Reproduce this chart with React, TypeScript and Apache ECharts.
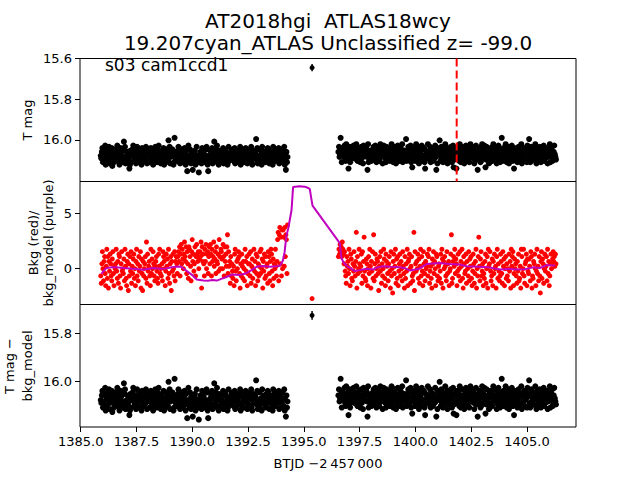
import React, { useEffect, useRef } from 'react';
import * as echarts from 'echarts';

// ---------- data ----------
const titleLines = ['AT2018hgi  ATLAS18wcy', '19.207cyan_ATLAS Unclassified z= -99.0'];
const sectorLabel = 's03 cam1ccd1';

const seg1Span = [1385.9, 1394.27];
const seg2Span = [1396.55, 1406.3];

// magnitudes, base-36 codes: mag = 15.983 + code * 0.0063
const magSeg1 = [
  'fhc9kgbi7m', 'djfae8lhgc', '9ndfkbiaeg', '7jhcmf9dkg', 'ai4b8lgfjc',
  'hdpmbkefa7', 'gjcilf8dhb', 'kagem9cjfi', 'bh8dlgaekf', 'c9jhfmbdi8',
  'egkaj7hcfl', 'dbig9mefka', 'hcj3f8lgbd', 'aemk1fhcgj', 'b8idlfagke',
  'jc9hmbfri7', 'gkaelhcqjf', 'dbmi8gfksh', 'ecjl9bgdif', 'kh8amrfgje',
  'bd9lik4fag', 'c7jembdkgi', 'fh9lacbgjd', 'mk8eifhbcg', 'ajd9lgkefb',
  'hci8mdjagf', 'kbe9ghlcid', 'fja8kmbehg', 'cd2i9lfjak', 'gem8hcdfik',
  'jbg9aelhcf', 'dkm8ibgjea', 'hfc9ldkbgi', 'aej8mfqckg',
];
const magSeg2 = [
  'c8ge19kadf', 'b7hj6cfapi', '8kd9gbe7hc', 'fa6ijdb9gk', 'e8hcl7fadb',
  '9gq6kchebj', 'dfa8ig7cke', 'hb9jd6fgal', 'c7ebhk8dif', 'gaj9c6hekb',
  '8fdlbi7gcj', 'e9ah6kdfbg', 'c2jfb8ieh7', 'kdoag9cjf6', 'hbe8lcidg7',
  'ajf9kpbhec', '6gdi8kafcj', 'beh7gqdl9c', 'f3aj8hekbi', 'd6gc9lfajh',
  'e8bkd7oigc', 'ap9fhbj6ek', 'c8gdilfa7h', 'bej9kc6gdf', '8ahlbe7icq',
  'gf9dkja6hb', 'e7coi8fgdl', 'bk9haje6gc', 'f8dlbi7hek', 'ac1gj9fdb6',
  'hke8clgaif', '7djbp9hegc', 'kf8aidb6lh', 'gc9ejfak7d', 'b2hkc8giea',
  'fd6jlb9hce', '8gkaidf7jb', 'hce9lgda6k', 'fb8jhc7egi',
];
// background, base-36 codes: bkg = -3.1 + code * 0.22
const bkgSeg1 = [
  'b8gle9hjc7', 'fmaj6hdkgb', '9ilc7fegmd', 'ah8kjb6gld', 'eci9mfa7hk',
  '5gbjdl8fci', 'kae7hmbg9j', 'dfl6ic5hbe', 'gjap8kdfhb', '7mcielgb9f',
  'hjda8kfmce', 'bg9ljhe7dk', 'fiamc8gj5h', 'dkebl9hjgc', 'jlhnbkogmi',
  'ekpjhnclga', 'nmjf9lqhkd', 'gnbjokhlei', 'ljp6nhkgbm', 'hoeklcjngo',
  'kbmhjpfilc', 'nhgkdqjeml', 'ieojbnhkfn', 'sclfh8jbgd', 'af7kmd9hei',
  'ljc6gbkfah', 'e9mhdj7cgk', 'gbl8fiaemd', 'h7kcj9gbfl', 'cmei6hdkaj',
  'bfg8ljc9hm', 'kd7iagemfb', 'hqt9svgrbu', 'eurfvjsqcw',
];
const bkgSeg2 = [
  'jmkolnjpmk', 'gldb8jfhcm', 'e7kia9gdlf', 'bht6jcemgd', 'fk8lbhrda9',
  'ig7ejcmf6h', 'dlas9gkbei', 'hc5fjdl8gb', 'emia7khfc9', 'gjd6lbe4hk',
  'cfm8iaj7dg', 'kbhe9lfc6j', 'agdm7hike8', 'fjb9ct5lgd', 'hekai8fmbj',
  'd7lgc9hefk', 'bjm8dfa6ig', 'lche7kjb9f', 'gadk8mi6he', 'jfb9lcgh7d',
  'eks8ahjfmc', 'ig7dkbel9h', 'fma6jgcdk8', 'hebl9ifja7', 'dkg8chm6eb',
  'jrf9ilbdg7', 'cahk8ej6mf', 'gld9bi7hck', 'ef6jmagd9b', 'khc8lfi7ej',
  'agbe9kdh6m', 'fjl7ciegb8', 'hdk9af6mjc', 'emb8ghk7id', 'cif9lj6bah',
  'gke7dmcf9j', 'b4hlaig8ek', 'dfj9mch7bg', 'kegilhjfkg',
];

// background model (purple), [BTJD, value]
const bkgModel = [
  [1385.93, -0.48], [1386.0, -0.3], [1386.15, 0.03], [1386.4, 0.1], [1386.6, 0.12],
  [1386.9, 0.05], [1387.2, 0.0], [1387.5, -0.05], [1387.8, -0.12], [1388.1, 0.0],
  [1388.3, 0.05], [1388.6, -0.02], [1388.8, 0.0], [1389.1, 0.1], [1389.3, 0.18],
  [1389.5, 0.15], [1389.8, -0.3], [1390.0, -0.6], [1390.2, -1.0], [1390.5, -1.1],
  [1390.7, -1.12], [1390.9, -1.05], [1391.1, -1.1], [1391.3, -0.95], [1391.5, -0.8],
  [1391.8, -0.55], [1392.1, -0.6], [1392.4, -0.45], [1392.7, -0.1], [1392.9, 0.18],
  [1393.2, 0.22], [1393.5, 0.15], [1393.7, 0.2], [1393.92, 0.22], [1394.06, 0.7],
  [1394.14, 1.5], [1394.22, 3.0], [1394.3, 3.6], [1394.45, 5.3], [1394.52, 7.4],
  [1394.8, 7.45], [1395.04, 7.42], [1395.2, 7.3], [1395.27, 7.2], [1395.33, 6.4],
  [1395.39, 5.7], [1396.61, 2.3], [1396.65, 1.6], [1396.69, 0.9], [1396.8, 0.5],
  [1396.91, 0.27], [1397.1, 0.0], [1397.29, -0.24], [1397.5, -0.15], [1397.81, -0.03],
  [1398.1, -0.1], [1398.3, 0.1], [1398.54, 0.2], [1398.9, 0.15], [1399.3, 0.1],
  [1399.5, 0.05], [1399.75, -0.18], [1400.0, -0.1], [1400.2, 0.0], [1400.5, 0.4],
  [1400.8, 0.45], [1401.1, 0.5], [1401.5, 0.4], [1402.0, 0.35], [1402.3, 0.2],
  [1402.8, 0.15], [1403.3, 0.1], [1403.8, -0.1], [1404.2, -0.05], [1404.54, -0.1],
  [1404.9, -0.08], [1405.27, 0.1], [1405.6, 0.05], [1405.88, 0.3], [1406.1, 0.28],
  [1406.26, 0.27],
];

// single flare-time point
const flareTime = 1395.37;
const flareMag = 15.645;
const flareMagErr = 0.018;
const flareBkg = -2.73;
const flareMagCorr = 15.725;

const discoveryTime = 1401.85;

const xTicks = [1385.0, 1387.5, 1390.0, 1392.5, 1395.0, 1397.5, 1400.0, 1402.5, 1405.0];
const magTicks = [15.6, 15.8, 16.0];
const bkgTicks = [0, 5];
const corrTicks = [15.8, 16.0];
const xRange = [1384.97, 1407.197];
const magRange = [15.6, 16.204];
const bkgRange = [-3.27, 7.89];
const corrRange = [15.68, 16.19];

// ---------- helpers ----------
function decode(groups: string[], span: number[], base: number, step: number) {
  const s = groups.join('');
  const n = s.length;
  const dt = (span[1] - span[0]) / (n - 1);
  const out: number[][] = [];
  for (let i = 0; i < n; i++) {
    out.push([span[0] + i * dt, base + parseInt(s[i], 36) * step]);
  }
  return out;
}

const FONT = 'DejaVu Sans';

export default function App() {
  const ref = useRef<HTMLDivElement>(null);
  useEffect(() => {
    if (!ref.current) return;
    const chart = echarts.init(ref.current, null, { renderer: 'svg' });

    const mag = [
      ...decode(magSeg1, seg1Span, 15.983, 0.0063),
      ...decode(magSeg2, seg2Span, 15.983, 0.0063),
    ];
    const bkg = [
      ...decode(bkgSeg1, seg1Span, -3.1, 0.22),
      ...decode(bkgSeg2, seg2Span, -3.1, 0.22),
    ];

    const grids = [
      { left: 80, top: 58.5, width: 496, height: 123 },
      { left: 80, top: 181.5, width: 496, height: 123 },
      { left: 80, top: 304.5, width: 496, height: 122.5 },
    ].map((g) => ({ ...g, show: true, borderColor: '#000', borderWidth: 1, backgroundColor: 'transparent' }));

    const xAxes = [0, 1, 2].map((i) => ({
      type: 'value',
      gridIndex: i,
      min: xRange[0],
      max: xRange[1],
      axisLine: { show: false },
      splitLine: { show: false },
      axisTick: { show: i === 2, customValues: xTicks, length: 5, lineStyle: { color: '#000' } },
      axisLabel: {
        show: i === 2,
        customValues: xTicks,
        formatter: (v: number) => v.toFixed(1),
        color: '#000',
        fontFamily: FONT,
        fontSize: 13,
        margin: 8,
      },
    }));

    const yAxis = (i: number, range: number[], ticks: number[], inverse: boolean) => ({
      type: 'value',
      gridIndex: i,
      min: range[0],
      max: range[1],
      inverse,
      axisLine: { show: false },
      splitLine: { show: false },
      axisTick: { show: true, customValues: ticks, length: 5, lineStyle: { color: '#000' } },
      axisLabel: {
        show: true,
        customValues: ticks,
        formatter: (v: number) => (Math.abs(v) < 1e-9 ? '0' : inverse ? v.toFixed(1) : String(Math.round(v))),
        color: '#000',
        fontFamily: FONT,
        fontSize: 13,
        margin: 8,
      },
    });

    const black = { color: '#000', opacity: 1 };
    const errLine = (yi: number, yv: number) => ({
      type: 'line',
      xAxisIndex: yi,
      yAxisIndex: yi,
      data: [[flareTime, yv - flareMagErr], [flareTime, yv + flareMagErr]],
      symbol: 'none',
      lineStyle: { color: '#000', width: 1.5 },
      silent: true,
    });

    const option = {
      animation: false,
      grid: grids,
      xAxis: xAxes,
      yAxis: [
        yAxis(0, magRange, magTicks, true),
        yAxis(1, bkgRange, bkgTicks, false),
        yAxis(2, corrRange, corrTicks, true),
      ],
      series: [
        { type: 'scatter', xAxisIndex: 0, yAxisIndex: 0, data: mag, symbolSize: 6, itemStyle: black, silent: true },
        errLine(0, flareMag),
        { type: 'scatter', xAxisIndex: 0, yAxisIndex: 0, data: [[flareTime, flareMag]], symbolSize: 5, itemStyle: black, silent: true },
        {
          type: 'line', xAxisIndex: 0, yAxisIndex: 0,
          data: [[discoveryTime, magRange[0]], [discoveryTime, magRange[1]]],
          symbol: 'none', lineStyle: { color: '#ff0000', width: 2, type: [8, 4] }, silent: true,
        },
        { type: 'scatter', xAxisIndex: 1, yAxisIndex: 1, data: [...bkg, [flareTime, flareBkg]], symbolSize: 5, itemStyle: { color: '#ff0000', opacity: 1 }, silent: true },
        {
          type: 'line', xAxisIndex: 1, yAxisIndex: 1, data: bkgModel, symbol: 'none',
          lineStyle: { color: '#bf00bf', width: 2 }, silent: true,
        },
        { type: 'scatter', xAxisIndex: 2, yAxisIndex: 2, data: mag, symbolSize: 6, itemStyle: black, silent: true },
        errLine(2, flareMagCorr),
        { type: 'scatter', xAxisIndex: 2, yAxisIndex: 2, data: [[flareTime, flareMagCorr]], symbolSize: 5, itemStyle: black, silent: true },
      ],
      graphic: [
        { type: 'text', x: 328, y: 21, style: { text: titleLines[0], font: `20px "${FONT}"`, fill: '#000', textAlign: 'center', textVerticalAlign: 'middle' } },
        { type: 'text', x: 328, y: 43, style: { text: titleLines[1], font: `20px "${FONT}"`, fill: '#000', textAlign: 'center', textVerticalAlign: 'middle' } },
        { type: 'text', x: 105, y: 65, style: { text: sectorLabel, font: `17px "${FONT}"`, fill: '#000', textAlign: 'left', textVerticalAlign: 'middle' } },
        { type: 'text', x: 27, y: 120, rotation: Math.PI / 2, style: { text: 'T mag', font: `13px "${FONT}"`, fill: '#000', textAlign: 'center', textVerticalAlign: 'middle' } },
        { type: 'text', x: 33, y: 243, rotation: Math.PI / 2, style: { text: 'Bkg (red)/', font: `13px "${FONT}"`, fill: '#000', textAlign: 'center', textVerticalAlign: 'middle' } },
        { type: 'text', x: 48.5, y: 243, rotation: Math.PI / 2, style: { text: 'bkg_model (purple)', font: `13px "${FONT}"`, fill: '#000', textAlign: 'center', textVerticalAlign: 'middle' } },
        { type: 'text', x: 9, y: 366, rotation: Math.PI / 2, style: { text: 'T mag \u2212', font: `13px "${FONT}"`, fill: '#000', textAlign: 'center', textVerticalAlign: 'middle' } },
        { type: 'text', x: 27, y: 366, rotation: Math.PI / 2, style: { text: 'bkg_model', font: `13px "${FONT}"`, fill: '#000', textAlign: 'center', textVerticalAlign: 'middle' } },
        { type: 'text', x: 328, y: 463, style: { text: 'BTJD \u22122\u2009457\u2009000', font: `13px "${FONT}"`, fill: '#000', textAlign: 'center', textVerticalAlign: 'middle' } },
      ],
    };

    chart.setOption(option as any);
    return () => chart.dispose();
  }, []);

  return (
    <div
      ref={ref}
      style={{ position: 'fixed', left: 0, top: 0, width: 640, height: 480, background: '#fff' }}
    />
  );
}
